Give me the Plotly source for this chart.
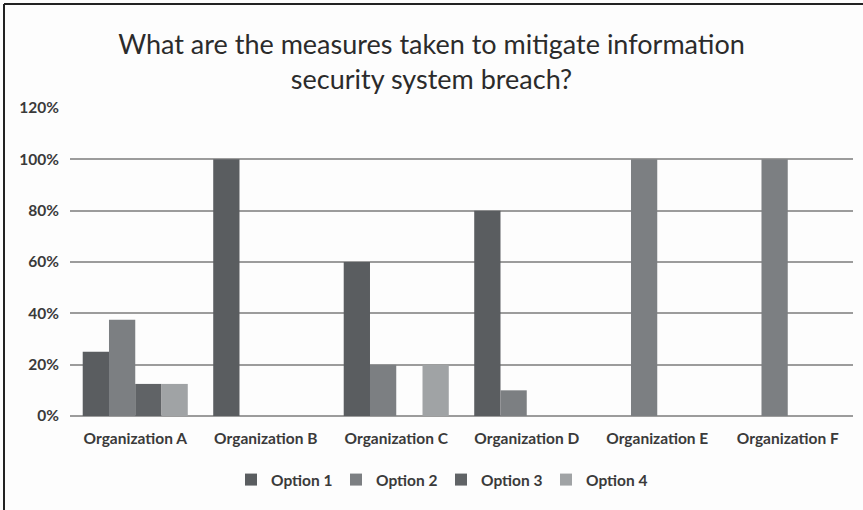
import plotly.graph_objects as go

# Survey results per organization (share of responses)
organizations = ["Organization A", "Organization B", "Organization C",
                 "Organization D", "Organization E", "Organization F"]
option_1 = [0.25, 1.00, 0.60, 0.80, 0.00, 0.00]
option_2 = [0.375, 0.00, 0.20, 0.10, 1.00, 1.00]
option_3 = [0.125, 0.00, 0.00, 0.00, 0.00, 0.00]
option_4 = [0.125, 0.00, 0.20, 0.00, 0.00, 0.00]
series_names = ["Option 1", "Option 2", "Option 3", "Option 4"]
y_ticks = [0, 0.2, 0.4, 0.6, 0.8, 1.0, 1.2]

colors = ["#5a5d60", "#7c7f82", "#606366", "#a0a3a5"]

W, H = 863, 510
ML, MR, MT, MB = 70, 10, 108, 94
FONT = "Lato"
LABEL = dict(family=FONT, size=15.5, color="#3a3a3a", weight="bold")

fig = go.Figure()
for name, vals, c in zip(series_names, [option_1, option_2, option_3, option_4], colors):
    fig.add_trace(go.Bar(
        x=organizations, y=vals, name=name,
        marker=dict(color=c, line=dict(width=0)),
    ))

# border on top and left edges of the chart area
pw = W - ML - MR
ph = H - MT - MB
x_left = (4 - ML) / pw
y_top = (H - MB - 4) / ph
y_bottom = -(MB) / ph
x_right = (W - ML) / pw
fig.add_shape(type="line", xref="paper", yref="paper",
              x0=x_left, x1=x_left, y0=y_bottom, y1=y_top,
              line=dict(color="#222222", width=2))
fig.add_shape(type="line", xref="paper", yref="paper",
              x0=x_left, x1=x_right, y0=y_top, y1=y_top,
              line=dict(color="#222222", width=2))

fig.update_layout(
    width=W, height=H,
    margin=dict(l=ML, r=MR, t=MT, b=MB, autoexpand=False),
    paper_bgcolor="#fdfdfd", plot_bgcolor="#fdfdfd",
    barmode="group", bargap=0.195, bargroupgap=0,
    title=dict(
        text="What are the measures taken to mitigate information<br>security system breach?",
        x=0.5, xref="container", xanchor="center",
        y=1 - 54 / H, yref="container", yanchor="top",
        font=dict(family=FONT, size=27, color="#2b2b2b"),
    ),
    font=dict(family=FONT, color="#404040"),
    xaxis=dict(
        showgrid=False, showline=False, ticks="", tickangle=0,
        automargin=False, ticklabelstandoff=11,
        tickfont=LABEL,
    ),
    yaxis=dict(
        range=[0, 1.2], tickvals=y_ticks, tickformat=".0%",
        showgrid=True, gridcolor="#9c9c9c", gridwidth=1.5,
        zeroline=True, zerolinecolor="#9c9c9c", zerolinewidth=1.5,
        showline=False, ticks="", ticklabelstandoff=10, automargin=False,
        tickfont=LABEL,
    ),
    legend=dict(
        orientation="h", x=0.511, xanchor="center", xref="container",
        y=30 / H, yref="container", yanchor="middle",
        font=LABEL, itemwidth=30, bgcolor="rgba(0,0,0,0)",
        entrywidth=60, entrywidthmode="pixels",
    ),
    showlegend=True,
)

fig.write_html("out.html")
